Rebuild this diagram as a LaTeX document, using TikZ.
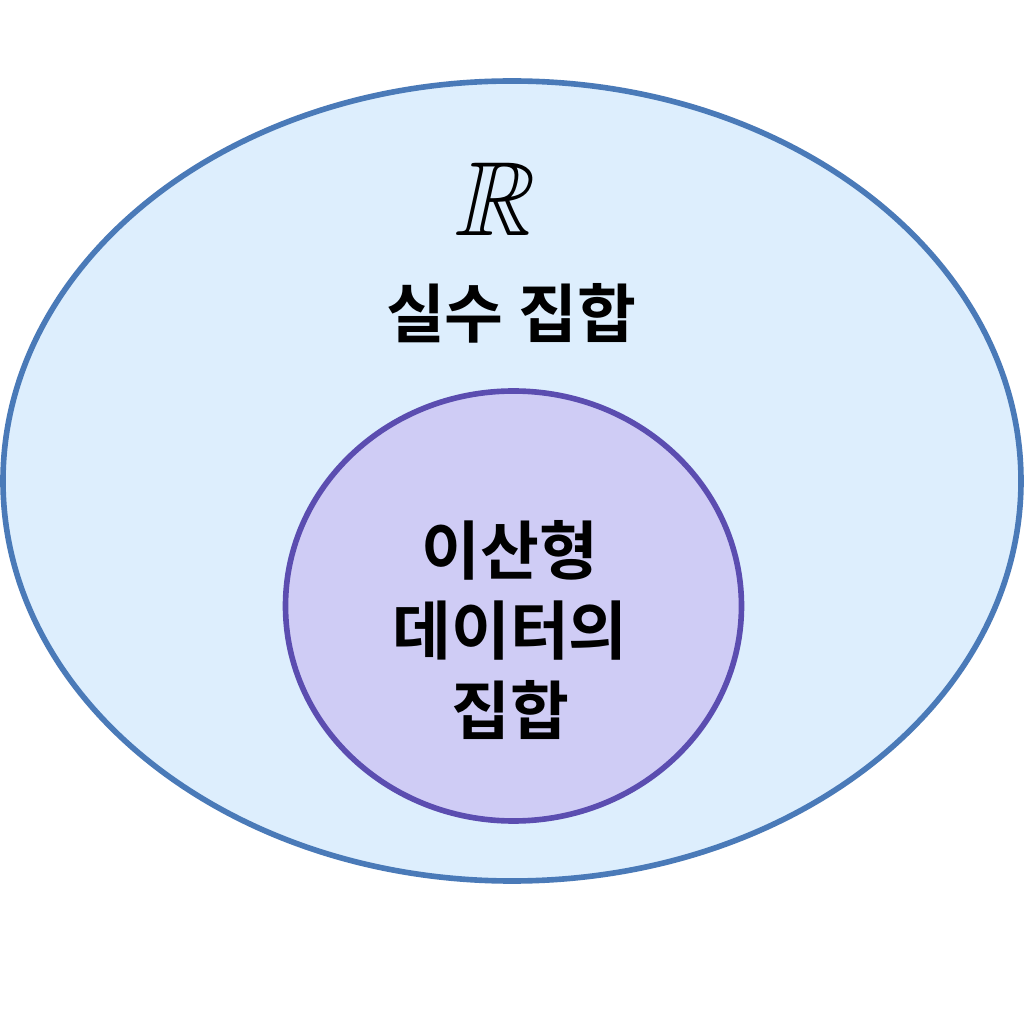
\documentclass[tikz,border=0pt]{standalone}
\usepackage{amsmath,amssymb}
\usepackage{fontspec}
\newfontfamily\kofont{Noto Sans CJK KR}[BoldFont={* Bold}]
\usetikzlibrary{positioning}
\usetikzlibrary{math}
\definecolor{outerfill}{HTML}{DDEEFD}
\definecolor{outerline}{HTML}{4A7AB8}
\definecolor{innerfill}{HTML}{CFCCF5}
\definecolor{innerline}{HTML}{5B4DB0}

\begin{document}
\begin{tikzpicture}[line width=1.6pt,
  settext/.style={font=\kofont\bfseries\fontsize{18.2}{22.8}\selectfont, align=center, inner sep=0pt}]

  \tikzmath{
    \outerrx = 5.09; % horizontal radius of the real numbers
    \outerry = 4.00; % vertical radius of the real numbers
    \innerrx = 2.28; % horizontal radius of the discrete set
    \innerry = 2.15; % vertical radius of the discrete set
  }

  % page size
  \useasboundingbox (0,0) rectangle (10.24,10.24);
  \fill[white] (0,0) rectangle (10.24,10.24);

  % Centres of the two sets
  \coordinate (O) at (5.12, 5.43);
  \coordinate (I) at (5.135, 4.18);

  % Set of real numbers
  \draw[outerline, fill=outerfill] (O) ellipse [x radius=\outerrx, y radius=\outerry];

  % Set of discrete data
  \draw[innerline, fill=innerfill] (I) ellipse [x radius=\innerrx, y radius=\innerry];

  % labels
  \node[inner sep=0pt, xslant=0.22, transform shape, font=\fontsize{30}{36}\selectfont] (R) at (5.01, 8.25) {$\mathbb{R}$};
  \node[settext] (real) at (5.11, 7.11) {실수 집합};
  \node[settext] (discrete) at (5.10, 3.94) {이산형\\데이터의\\집합};

\end{tikzpicture}
\end{document}
